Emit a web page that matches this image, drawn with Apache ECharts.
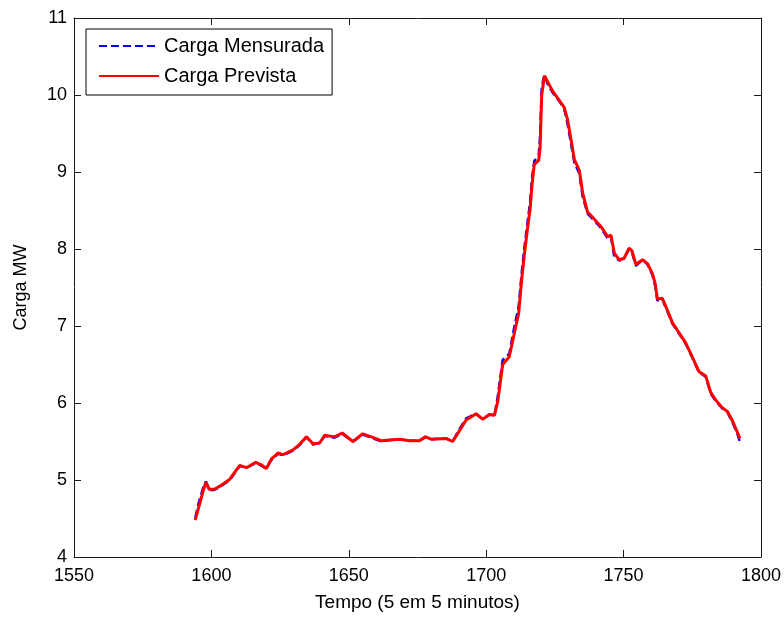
<!DOCTYPE html>
<html>
<head>
<meta charset="utf-8">
<script src="https://cdn.jsdelivr.net/npm/echarts@6/dist/echarts.min.js"></script>
<style>
html,body{margin:0;padding:0;background:#fff;}
#c{width:784px;height:617px;}
</style>
</head>
<body>
<div id="c"></div>
<script>
// Time steps (5-minute intervals)
var tempo = [1594.1,1595.5,1597,1598,1599.2,1601,1603.1,1606.7,1610.3,1612.8,
  1616.1,1618,1620,1621.8,1624.2,1626.1,1629.7,1632,1634.6,1637,
  1639.4,1641.2,1644.8,1647.6,1651.5,1655.1,1658.2,1661.8,1665,1668.5,
  1672,1675.7,1677.9,1680,1685.4,1687.8,1689.6,1692.7,1696.3,1698.7,
  1701.2,1703,1704.2,1706,1708.4,1710.2,1711.8,1713,1713.9,1715.1,
  1716,1716.7,1717.5,1719.1,1719.6,1720.2,1721.2,1722.4,1724.2,1726.6,
  1728.4,1729.6,1730.9,1732.1,1733.9,1735.1,1736.9,1739.3,1741.8,1744.2,
  1745.4,1746.6,1748.4,1750.2,1752,1753,1754.5,1756.9,1758.7,1760.5,
  1761.5,1762.3,1764.1,1765.9,1767.8,1770.2,1772.6,1775,1777.4,1779.9,
  1781.7,1783.5,1785.9,1787.8,1789.6,1791.4,1792.3];

// Carga Mensurada (MW)
var mensurada = [4.51,4.72,4.90,4.98,4.87,4.87,4.91,5.00,5.18,5.16,
  5.22,5.19,5.15,5.26,5.34,5.32,5.38,5.45,5.56,5.46,
  5.48,5.57,5.55,5.60,5.50,5.59,5.55,5.50,5.52,5.53,
  5.51,5.51,5.56,5.53,5.54,5.50,5.62,5.80,5.86,5.79,
  5.85,5.84,6.08,6.56,6.64,6.98,7.25,7.72,8.02,8.36,
  8.62,8.93,9.14,9.22,9.45,10.10,10.26,10.14,10.03,9.92,
  9.82,9.63,9.36,9.12,8.98,8.68,8.46,8.37,8.27,8.14,
  8.16,7.90,7.85,7.88,8.00,7.96,7.78,7.86,7.80,7.66,
  7.52,7.33,7.35,7.19,7.03,6.90,6.77,6.59,6.40,6.34,
  6.12,6.03,5.93,5.88,5.75,5.60,5.50];

// Carga Prevista (MW)
var prevista = [4.48,4.66,4.86,4.97,4.88,4.88,4.92,5.01,5.19,5.16,
  5.23,5.20,5.15,5.27,5.35,5.33,5.39,5.46,5.56,5.47,
  5.48,5.58,5.56,5.61,5.50,5.60,5.56,5.51,5.52,5.53,
  5.51,5.51,5.56,5.53,5.54,5.50,5.60,5.78,5.86,5.79,
  5.85,5.84,6.02,6.50,6.60,6.90,7.16,7.63,7.93,8.28,
  8.53,8.84,9.10,9.15,9.30,10.00,10.25,10.17,10.05,9.93,
  9.84,9.68,9.42,9.16,9.02,8.73,8.48,8.39,8.29,8.16,
  8.18,7.95,7.86,7.88,8.01,7.98,7.80,7.86,7.81,7.68,
  7.55,7.35,7.36,7.21,7.04,6.91,6.78,6.60,6.41,6.35,
  6.14,6.04,5.94,5.89,5.77,5.62,5.54];

var seriesNames = ['Carga Mensurada', 'Carga Prevista'];
var xTitle = 'Tempo (5 em 5 minutos)';
var yTitle = 'Carga MW';

function pairs(xs, ys){ var o=[]; for (var i=0;i<xs.length;i++) o.push([xs[i], ys[i]]); return o; }

var FONT = 'Liberation Sans';
var axisCol = '#1a1a1a';
var chart = echarts.init(document.getElementById('c'), null, {renderer:'canvas'});
var tickStyle = {show:true, inside:true, length:7, lineStyle:{color:axisCol, width:1}};
chart.setOption({
  backgroundColor:'#ffffff',
  animation:false,
  grid:{left:74, right:22, top:18, bottom:60, containLabel:false},
  legend:{
    data:seriesNames, orient:'vertical', left:86, top:29,
    itemWidth:60, itemHeight:20, itemGap:10,
    padding:[7,8,9,12],
    itemStyle:{opacity:0},
    borderColor:'#000', borderWidth:1, backgroundColor:'#fff',
    textStyle:{fontFamily:FONT, fontSize:20, color:'#000'}
  },
  xAxis:[{
    type:'value', min:1550, max:1800, interval:50,
    name:xTitle, nameLocation:'middle', nameGap:36,
    nameTextStyle:{fontFamily:FONT, fontSize:19, color:'#000'},
    axisLine:{show:true, onZero:false, lineStyle:{color:axisCol, width:1}},
    axisTick:tickStyle,
    axisLabel:{fontFamily:FONT, fontSize:18, color:'#000', margin:10,
      formatter:function(v){ return String(v); }},
    splitLine:{show:false}
  },{
    type:'value', position:'top', min:1550, max:1800, interval:50,
    axisLine:{show:true, onZero:false, lineStyle:{color:axisCol, width:1}},
    axisTick:tickStyle, axisLabel:{show:false}, splitLine:{show:false}
  }],
  yAxis:[{
    type:'value', min:4, max:11, interval:1,
    name:yTitle, nameLocation:'middle', nameGap:44, nameRotate:90,
    nameTextStyle:{fontFamily:FONT, fontSize:18, color:'#000'},
    axisLine:{show:true, onZero:false, lineStyle:{color:axisCol, width:1}},
    axisTick:tickStyle,
    axisLabel:{fontFamily:FONT, fontSize:18, color:'#000', margin:7},
    splitLine:{show:false}
  },{
    type:'value', position:'right', min:4, max:11, interval:1,
    axisLine:{show:true, onZero:false, lineStyle:{color:axisCol, width:1}},
    axisTick:tickStyle, axisLabel:{show:false}, splitLine:{show:false}
  }],
  series:[{
    name:seriesNames[0], type:'line', xAxisIndex:0, yAxisIndex:0,
    data:pairs(tempo, mensurada), symbol:'none', showSymbol:false,
    lineStyle:{color:'#0000ff', width:2.5, type:[8,4]}, itemStyle:{color:'#0000ff'}
  },{
    name:seriesNames[1], type:'line', xAxisIndex:0, yAxisIndex:0,
    data:pairs(tempo, prevista), symbol:'none', showSymbol:false,
    lineStyle:{color:'#ff0000', width:3}, itemStyle:{color:'#ff0000'}
  }]
});
</script>
</body>
</html>
